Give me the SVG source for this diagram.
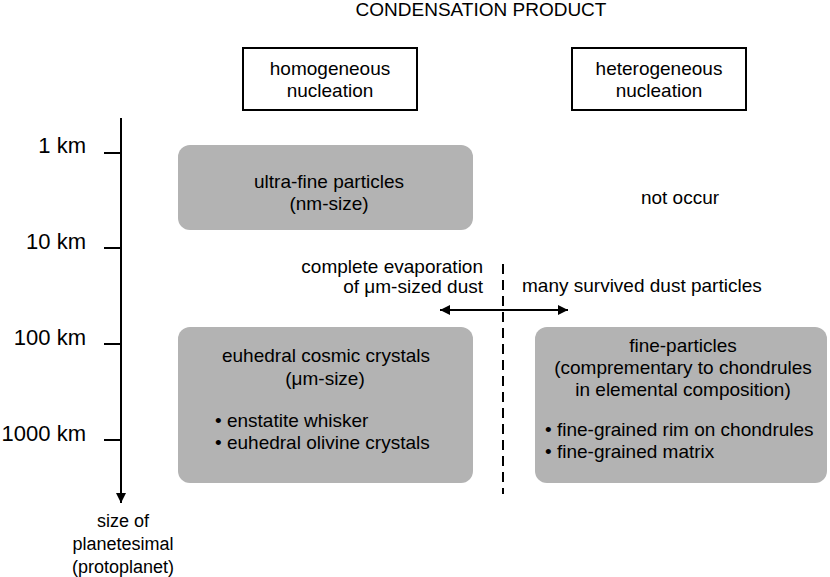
<svg xmlns="http://www.w3.org/2000/svg" width="830" height="577" viewBox="0 0 830 577">
<defs>
<style>
text{font-family:"Liberation Sans",Arial,sans-serif;fill:#000;}
.t{font-size:19px;}
.c{text-anchor:middle;}
.r{text-anchor:end;}
.lab{font-size:22px;text-anchor:end;}
.hdr{fill:#fff;stroke:#000;stroke-width:2;}
.gray{fill:#b3b3b3;}
.ln{stroke:#000;stroke-width:2;fill:none;}
</style>
<marker id="ah" viewBox="0 0 10 10" refX="10" refY="5" markerWidth="14" markerHeight="10" markerUnits="userSpaceOnUse" orient="auto-start-reverse">
<path d="M0,0 L10,5 L0,10 z" fill="#000"/>
</marker>
</defs>
<rect width="830" height="577" fill="#fff"/>

<text id="title" class="t c" x="481" y="16">CONDENSATION PRODUCT</text>

<g id="homogeneous">
<rect class="hdr" x="243" y="48" width="174" height="62"/>
<text class="t c" x="330" y="75">homogeneous</text>
<text class="t c" x="330" y="97">nucleation</text>
</g>
<g id="heterogeneous">
<rect class="hdr" x="572" y="48" width="174" height="62"/>
<text class="t c" x="659" y="75">heterogeneous</text>
<text class="t c" x="659" y="97">nucleation</text>
</g>

<g id="axis">
<line class="ln" x1="121" y1="118" x2="121" y2="503" marker-end="url(#ah)"/>
<line class="ln" x1="104" y1="153" x2="121" y2="153"/>
<line class="ln" x1="104" y1="248" x2="121" y2="248"/>
<line class="ln" x1="104" y1="344" x2="121" y2="344"/>
<line class="ln" x1="104" y1="440" x2="121" y2="440"/>
<text class="lab" x="86" y="153">1 km</text>
<text class="lab" x="86" y="249">10 km</text>
<text class="lab" x="86" y="345">100 km</text>
<text class="lab" x="86" y="441">1000 km</text>
<text class="c" style="font-size:18px" x="123" y="527">size of</text>
<text class="c" style="font-size:18px" x="123" y="550">planetesimal</text>
<text class="c" style="font-size:18px" x="123" y="573">(protoplanet)</text>
</g>

<g id="ultrafine">
<rect class="gray" x="178" y="145" width="295" height="85" rx="12"/>
<text class="t c" x="329" y="188">ultra-fine particles</text>
<text class="t c" x="329" y="210">(nm-size)</text>
</g>

<g id="notoccur">
<text class="t c" x="680" y="204">not occur</text>
</g>

<g id="euhedral">
<rect class="gray" x="178" y="327" width="295" height="156" rx="12"/>
<text class="t c" x="326" y="362">euhedral cosmic crystals</text>
<text class="t c" x="325" y="385">(μm-size)</text>
<text class="t" x="215" y="427">• enstatite whisker</text>
<text class="t" x="215" y="449">• euhedral olivine crystals</text>
</g>

<g id="fineparticles">
<rect class="gray" x="535" y="327" width="292" height="156" rx="12"/>
<text class="t c" x="683" y="352">fine-particles</text>
<text class="t c" x="683" y="374">(comprementary to chondrules</text>
<text class="t c" x="683" y="396">in elemental composition)</text>
<text class="t" x="545" y="436">• fine-grained rim on chondrules</text>
<text class="t" x="545" y="458">• fine-grained matrix</text>
</g>

<g id="connectors">
<line class="ln" x1="503" y1="264" x2="503" y2="494" stroke-dasharray="10,6"/>
<line class="ln" x1="440" y1="310" x2="568" y2="310" marker-start="url(#ah)" marker-end="url(#ah)"/>
</g>

<g id="labels">
<text class="t r" x="483" y="273">complete evaporation</text>
<text class="t r" x="483" y="293">of μm-sized dust</text>
<text class="t" x="522" y="292">many survived dust particles</text>
</g>
</svg>
